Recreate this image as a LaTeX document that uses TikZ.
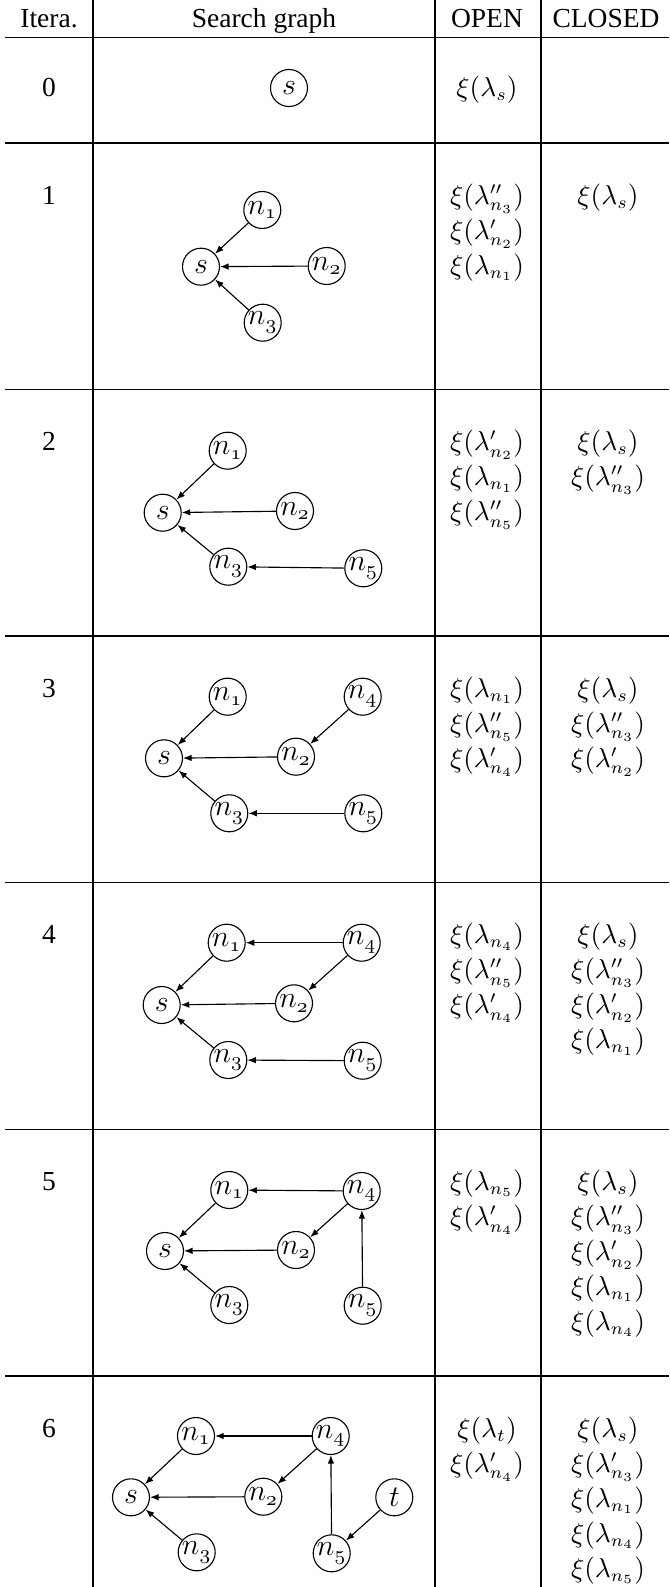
\documentclass[tikz,border=0pt]{standalone}
\usepackage[no-math]{fontspec}
\setmainfont{Liberation Serif}
\usetikzlibrary{arrows.meta}
\tikzset{
  tbl/.style={line width=0.6pt},
  vx/.style={circle, draw, line width=0.45pt, minimum size=14.8pt, inner sep=0pt, font=\fontsize{12}{14}\selectfont},
  arr/.style={-{Latex[length=3.4pt,width=2.6pt]}, line width=0.45pt},
  hdr/.style={font=\fontsize{11}{13}\selectfont, anchor=base, inner sep=0pt},
  xi/.style={anchor=base, inner sep=0pt, font=\fontsize{10.5}{14}\selectfont}
}
\newcommand{\nd}[1]{n_{\mathchar"013#1}}
\begin{document}
\begin{tikzpicture}[x=0.4pt,y=-0.4pt]
\useasboundingbox (0,0) rectangle (669,1587);
% table rules
\draw[tbl] (93,0) -- (93,1587);
\draw[tbl] (435,0) -- (435,1587);
\draw[tbl] (541,0) -- (541,1587);
\foreach \yy in {37.5,143,389.5,636,882.7,1129.3,1376}
  \draw[tbl] (5,\yy) -- (669,\yy);
% header
\node[hdr] (hI) at (49,27) {Itera.};
\node[hdr] (hS) at (264,27) {Search graph};
\node[hdr] (hO) at (487,27) {OPEN};
\node[hdr] (hC) at (606,27) {CLOSED};
% iteration numbers
\node[hdr] (it0) at (49,96) {0};
\node[hdr] (it1) at (49,204) {1};
\node[hdr] (it2) at (49,450.5) {2};
\node[hdr] (it3) at (49,697) {3};
\node[hdr] (it4) at (49,943.7) {4};
\node[hdr] (it5) at (49,1190.3) {5};
\node[hdr] (it6) at (49,1437) {6};
% row 0
\node[vx] (r0s) at (289,88) {$s$};
\node[xi] (o01) at (487,96) {$\xi(\lambda_s)$};
% row 1
\node[vx] (r1s) at (201,266.7) {$s$};
\node[vx] (r1n1) at (262.3,210) {$\nd1$};
\node[vx] (r1n2) at (326.7,266) {$\nd2$};
\node[vx] (r1n3) at (262.7,322.7) {$\nd3$};
\draw[arr] (r1n1) -- (r1s);
\draw[arr] (r1n2) -- (r1s);
\draw[arr] (r1n3) -- (r1s);
\node[xi] (o11) at (487,204) {$\xi(\lambda''_{n_3})$};
\node[xi] (o12) at (487,239) {$\xi(\lambda'_{n_2})$};
\node[xi] (o13) at (487,274) {$\xi(\lambda_{n_1})$};
\node[xi] (c11) at (608,204) {$\xi(\lambda_s)$};
% row 2
\node[vx] (r2s) at (162.7,512.7) {$s$};
\node[vx] (r2n1) at (227.7,450.7) {$\nd1$};
\node[vx] (r2n2) at (295,511) {$\nd2$};
\node[vx] (r2n3) at (228.3,566.7) {$\nd3$};
\node[vx] (r2n5) at (363.3,568.3) {$\nd5$};
\draw[arr] (r2n1) -- (r2s);
\draw[arr] (r2n2) -- (r2s);
\draw[arr] (r2n3) -- (r2s);
\draw[arr] (r2n5) -- (r2n3);
\node[xi] (o21) at (487,450.5) {$\xi(\lambda'_{n_2})$};
\node[xi] (o22) at (487,485.5) {$\xi(\lambda_{n_1})$};
\node[xi] (o23) at (487,520.5) {$\xi(\lambda''_{n_5})$};
\node[xi] (c21) at (608,450.5) {$\xi(\lambda_s)$};
\node[xi] (c22) at (608,485.5) {$\xi(\lambda''_{n_3})$};
% row 3
\node[vx] (r3s) at (164,758.3) {$s$};
\node[vx] (r3n1) at (227.7,696.7) {$\nd1$};
\node[vx] (r3n4) at (362.7,696.7) {$\nd4$};
\node[vx] (r3n2) at (296,756.7) {$\nd2$};
\node[vx] (r3n3) at (229.3,813.3) {$\nd3$};
\node[vx] (r3n5) at (363.3,813.3) {$\nd5$};
\draw[arr] (r3n1) -- (r3s);
\draw[arr] (r3n2) -- (r3s);
\draw[arr] (r3n3) -- (r3s);
\draw[arr] (r3n4) -- (r3n2);
\draw[arr] (r3n5) -- (r3n3);
\node[xi] (o31) at (487,697) {$\xi(\lambda_{n_1})$};
\node[xi] (o32) at (487,732) {$\xi(\lambda''_{n_5})$};
\node[xi] (o33) at (487,767) {$\xi(\lambda'_{n_4})$};
\node[xi] (c31) at (608,697) {$\xi(\lambda_s)$};
\node[xi] (c32) at (608,732) {$\xi(\lambda''_{n_3})$};
\node[xi] (c33) at (608,767) {$\xi(\lambda'_{n_2})$};
% row 4
\node[vx] (r4s) at (161.7,1005) {$s$};
\node[vx] (r4n1) at (226.7,942.7) {$\nd1$};
\node[vx] (r4n4) at (361.7,942.7) {$\nd4$};
\node[vx] (r4n2) at (294,1003.3) {$\nd2$};
\node[vx] (r4n3) at (228.3,1060) {$\nd3$};
\node[vx] (r4n5) at (362.7,1060.7) {$\nd5$};
\draw[arr] (r4n4) -- (r4n1);
\draw[arr] (r4n1) -- (r4s);
\draw[arr] (r4n4) -- (r4n2);
\draw[arr] (r4n2) -- (r4s);
\draw[arr] (r4n3) -- (r4s);
\draw[arr] (r4n5) -- (r4n3);
\node[xi] (o41) at (487,943.7) {$\xi(\lambda_{n_4})$};
\node[xi] (o42) at (487,978.7) {$\xi(\lambda''_{n_5})$};
\node[xi] (o43) at (487,1013.7) {$\xi(\lambda'_{n_4})$};
\node[xi] (c41) at (608,943.7) {$\xi(\lambda_s)$};
\node[xi] (c42) at (608,978.7) {$\xi(\lambda''_{n_3})$};
\node[xi] (c43) at (608,1013.7) {$\xi(\lambda'_{n_2})$};
\node[xi] (c44) at (608,1048.7) {$\xi(\lambda_{n_1})$};
% row 5
\node[vx] (r5s) at (165,1251) {$s$};
\node[vx] (r5n1) at (229.3,1190) {$\nd1$};
\node[vx] (r5n4) at (361.7,1191) {$\nd4$};
\node[vx] (r5n2) at (296,1250) {$\nd2$};
\node[vx] (r5n3) at (229.3,1305) {$\nd3$};
\node[vx] (r5n5) at (362.7,1305.7) {$\nd5$};
\draw[arr] (r5n4) -- (r5n1);
\draw[arr] (r5n1) -- (r5s);
\draw[arr] (r5n4) -- (r5n2);
\draw[arr] (r5n2) -- (r5s);
\draw[arr] (r5n3) -- (r5s);
\draw[arr] (r5n5) -- (r5n4);
\node[xi] (o51) at (487,1190.3) {$\xi(\lambda_{n_5})$};
\node[xi] (o52) at (487,1225.3) {$\xi(\lambda'_{n_4})$};
\node[xi] (c51) at (608,1190.3) {$\xi(\lambda_s)$};
\node[xi] (c52) at (608,1225.3) {$\xi(\lambda''_{n_3})$};
\node[xi] (c53) at (608,1260.3) {$\xi(\lambda'_{n_2})$};
\node[xi] (c54) at (608,1295.3) {$\xi(\lambda_{n_1})$};
\node[xi] (c55) at (608,1330.3) {$\xi(\lambda_{n_4})$};
% row 6
\node[vx] (r6s) at (131,1497.3) {$s$};
\node[vx] (r6n1) at (196,1436) {$\nd1$};
\node[vx] (r6n4) at (330.7,1436) {$\nd4$};
\node[vx] (r6n2) at (263.3,1496.7) {$\nd2$};
\node[vx] (r6t) at (394.3,1497.3) {$t$};
\node[vx] (r6n3) at (196.7,1552.3) {$\nd3$};
\node[vx] (r6n5) at (331.7,1553.3) {$\nd5$};
\draw[arr] (r6n4) -- (r6n1);
\draw[arr] (r6n1) -- (r6s);
\draw[arr] (r6n4) -- (r6n2);
\draw[arr] (r6n2) -- (r6s);
\draw[arr] (r6n3) -- (r6s);
\draw[arr] (r6n5) -- (r6n4);
\draw[arr] (r6t) -- (r6n5);
\node[xi] (o61) at (487,1437) {$\xi(\lambda_t)$};
\node[xi] (o62) at (487,1472) {$\xi(\lambda'_{n_4})$};
\node[xi] (c61) at (608,1437) {$\xi(\lambda_s)$};
\node[xi] (c62) at (608,1472) {$\xi(\lambda'_{n_3})$};
\node[xi] (c63) at (608,1507) {$\xi(\lambda_{n_1})$};
\node[xi] (c64) at (608,1542) {$\xi(\lambda_{n_4})$};
\node[xi] (c65) at (608,1577) {$\xi(\lambda_{n_5})$};
\end{tikzpicture}
\end{document}
